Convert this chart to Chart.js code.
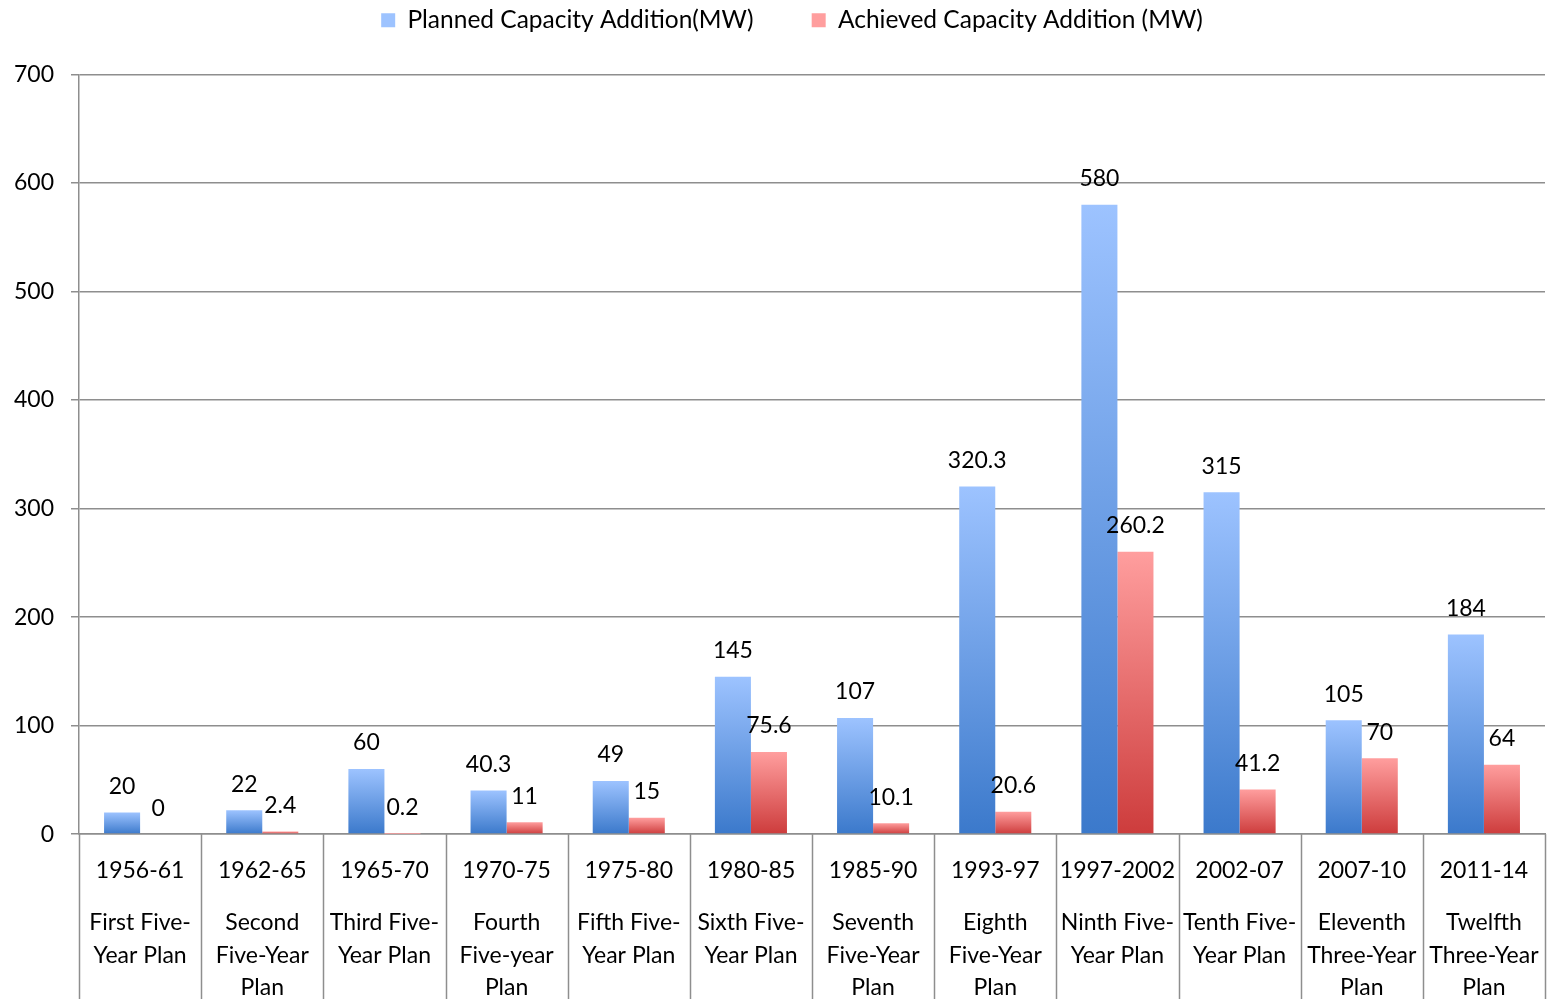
<!DOCTYPE html>
<html>
<head>
<meta charset="utf-8">
<script src="https://cdn.jsdelivr.net/npm/chart.js@4"></script>
<style>
  html, body { margin: 0; padding: 0; background: #fff; }
  #wrap { width: 1553px; height: 999px; }
</style>
</head>
<body>
<div id="wrap"><canvas id="capacityChart" width="1553" height="999"></canvas></div>
<script>
const periods = ['1956-61', '1962-65', '1965-70', '1970-75', '1975-80', '1980-85',
    '1985-90', '1993-97', '1997-2002', '2002-07', '2007-10', '2011-14'];
const planNames = [
    ['First Five-', 'Year Plan'],
    ['Second', 'Five-Year', 'Plan'],
    ['Third Five-', 'Year Plan'],
    ['Fourth', 'Five-year', 'Plan'],
    ['Fifth Five-', 'Year Plan'],
    ['Sixth Five-', 'Year Plan'],
    ['Seventh', 'Five-Year', 'Plan'],
    ['Eighth', 'Five-Year', 'Plan'],
    ['Ninth Five-', 'Year Plan'],
    ['Tenth Five-', 'Year Plan'],
    ['Eleventh', 'Three-Year', 'Plan'],
    ['Twelfth', 'Three-Year', 'Plan']
];
const planned = [20, 22, 60, 40.3, 49, 145, 107, 320.3, 580, 315, 105, 184];
const achieved = [0, 2.4, 0.2, 11, 15, 75.6, 10.1, 20.6, 260.2, 41.2, 70, 64];

const font = 'Lato, "Open Sans", sans-serif';
const gridGray = '#8e8e8e';

// vertical gradient for each bar, light at the top, dark at the base
function barFill(light, dark, flat) {
    return function (ctx) {
        const chart = ctx.chart;
        if (!chart.chartArea || ctx.type !== 'data' || !ctx.parsed) return flat;
        const y = chart.scales.y;
        const top = y.getPixelForValue(ctx.parsed.y);
        const base = y.getPixelForValue(0);
        if (base - top < 1) return light;
        const g = chart.ctx.createLinearGradient(0, top, 0, base);
        g.addColorStop(0, light);
        g.addColorStop(1, dark);
        return g;
    };
}

// value labels above the bars
const valueLabels = {
    id: 'valueLabels',
    afterDatasetsDraw(chart) {
        const ctx = chart.ctx;
        ctx.save();
        ctx.font = '23px ' + font;
        ctx.fillStyle = '#000';
        ctx.textAlign = 'center';
        ctx.textBaseline = 'middle';
        chart.data.datasets.forEach((ds, i) => {
            chart.getDatasetMeta(i).data.forEach((bar, j) => {
                ctx.fillText(String(ds.data[j]), bar.x, bar.y - 26);
            });
        });
        ctx.restore();
    }
};

// category separators running down through the axis labels
const separators = {
    id: 'separators',
    afterDraw(chart) {
        const x = chart.scales.x;
        const ctx = chart.ctx;
        ctx.save();
        ctx.strokeStyle = gridGray;
        ctx.lineWidth = 1.5;
        for (let i = 0; i <= periods.length; i++) {
            const px = Math.round(x.getPixelForValue(i - 0.5)) + 0.5;
            ctx.beginPath();
            ctx.moveTo(px, chart.chartArea.bottom);
            ctx.lineTo(px, chart.height);
            ctx.stroke();
        }
        ctx.restore();
    }
};

// extra room under the legend, and nudge it right a little
const legendTweak = {
    id: 'legendTweak',
    beforeInit(chart) {
        const legend = chart.legend;
        const fit = legend.fit;
        legend.fit = function () {
            fit.call(this);
            this.height += 32;
        };
        const draw = legend.draw;
        legend.draw = function () {
            const ctx = this.ctx;
            ctx.save();
            ctx.translate(21, 0);
            draw.apply(this, arguments);
            ctx.restore();
        };
    }
};

new Chart(document.getElementById('capacityChart'), {
    type: 'bar',
    data: {
        labels: periods,
        datasets: [{
            label: 'Planned Capacity Addition(MW)',
            data: planned,
            backgroundColor: barFill('#9dc3ff', '#3b79cb', '#6fa0e6')
        }, {
            label: 'Achieved Capacity Addition (MW)',
            data: achieved,
            backgroundColor: barFill('#ff9e9e', '#cd3c3c', '#e86b6b')
        }]
    },
    options: {
        responsive: false,
        animation: false,
        layout: { padding: { left: -3, right: 8, top: 0, bottom: -4 } },
        datasets: {
            bar: { categoryPercentage: 0.59, barPercentage: 1.0 }
        },
        plugins: {
            tooltip: { enabled: false },
            legend: {
                position: 'top',
                labels: {
                    font: { family: font, size: 24.5 },
                    color: '#000',
                    boxWidth: 14,
                    boxHeight: 14,
                    padding: 8,
                    generateLabels(chart) {
                        const items = Chart.defaults.plugins.legend.labels.generateLabels(chart);
                        items[0].text += '        ';
                        return items;
                    }
                }
            }
        },
        scales: {
            x: {
                offset: true,
                grid: { display: false, drawTicks: false },
                border: { display: true, color: gridGray, width: 1.5 },
                ticks: {
                    font: { family: font, size: 23, lineHeight: 1.2 },
                    color: '#000',
                    padding: 23,
                    maxRotation: 0,
                    autoSkip: false
                }
            },
            x2: {
                type: 'category',
                labels: planNames,
                position: 'bottom',
                offset: true,
                grid: { display: false, drawTicks: false },
                border: { display: false },
                ticks: {
                    font: { family: font, size: 23, lineHeight: 1.41 },
                    color: '#000',
                    padding: -1,
                    maxRotation: 0,
                    autoSkip: false
                }
            },
            y: {
                min: 0,
                max: 700,
                grid: { color: gridGray, lineWidth: 1.5, tickLength: 8 },
                border: { color: gridGray, width: 1.5 },
                ticks: {
                    stepSize: 100,
                    font: { family: font, size: 23 },
                    color: '#000',
                    padding: 17
                }
            }
        }
    },
    plugins: [valueLabels, separators, legendTweak]
});
</script>
</body>
</html>
